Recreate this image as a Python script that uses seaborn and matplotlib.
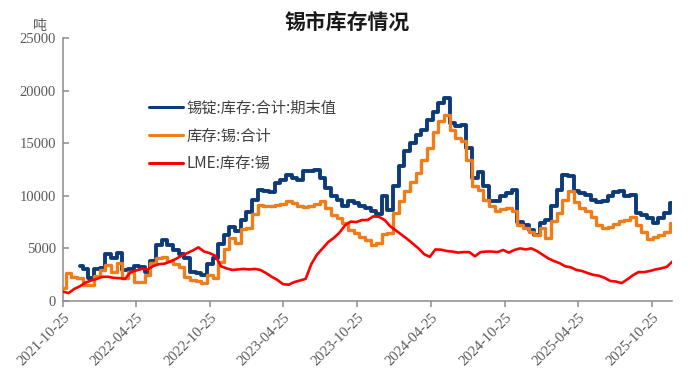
import numpy as np
import pandas as pd
import matplotlib
matplotlib.use("Agg")
import matplotlib.pyplot as plt
import seaborn as sns

# ---- data (biweekly readings, tonnes) ----
start_date = "2021-10-25"
n_points = 109
dates = pd.date_range(start_date, periods=n_points, freq="14D")

ingot_stock = [np.nan, np.nan, np.nan, 3300, 3000, 2160, 3000, 3100, 4500, 4060,
               4540, 2950, 3000, 3330, 3270, 2800, 3800, 5300, 5800, 5300,
               4860, 4450, 4060, 2800, 2630, 2480, 3500, 4060, 5400, 6300,
               7000, 6700, 7700, 8500, 9600, 10570, 10480, 10400, 11200, 11460,
               12000, 11680, 11530, 12320, 12320, 12480, 11680, 10730, 9940, 9620,
               8990, 9460, 9300, 8990, 8830, 8510, 8300, 9940, 8670, 10890,
               12800, 14220, 15020, 15810, 16290, 17200, 18000, 18830, 19300, 16920,
               16600, 16760, 14540, 11680, 12300, 10890, 9460, 9460, 9940, 10250,
               10570, 7500, 7240, 6760, 6290, 7400, 7720, 9000, 10570, 12000,
               11840, 10410, 10250, 10100, 9620, 9370, 9460, 10000, 10320, 10410,
               10000, 10100, 8410, 8190, 7870, 7400, 7900, 8350, 9300]

tin_total = [1200, 2630, 2300, 2160, 1520, 1500, 2400, 2950, 3430, 2800,
             3590, 2160, 2800, 1840, 1840, 2480, 3600, 4060, 4200, 3800,
             3520, 3270, 2300, 2000, 1900, 1680, 2480, 2160, 3750, 4900,
             5970, 5500, 6800, 6920, 8300, 9140, 9050, 9050, 9140, 9240,
             9460, 9300, 8990, 8920, 8990, 9200, 9460, 8830, 8190, 7870,
             7460, 6760, 6450, 6130, 5800, 5330, 5490, 6380, 6450, 8350,
             9460, 10410, 11270, 12160, 13430, 14540, 16070, 17080, 17720, 16220,
             15490, 15180, 13430, 10950, 10570, 9620, 8990, 8510, 8730, 8830,
             8600, 7240, 6920, 6600, 6290, 6900, 6000, 7560, 8350, 9620,
             10410, 9400, 8830, 8510, 8030, 7240, 6920, 7080, 7300, 7650,
             7710, 7950, 7240, 6600, 5900, 6100, 6300, 6600, 7400]

lme_stock = [890, 750, 1150, 1400, 1750, 1950, 2100, 2300, 2300, 2200,
             2170, 2100, 2750, 2900, 3050, 3000, 3330, 3500, 3550, 3750,
             4000, 4300, 4550, 4800, 5100, 4700, 4550, 4300, 3300, 3100,
             2950, 3000, 3050, 3000, 3050, 2950, 2650, 2300, 2000, 1600,
             1550, 1800, 1950, 2100, 3500, 4400, 5000, 5600, 6000, 6500,
             7200, 7550, 7500, 7700, 7700, 8050, 8000, 7700, 7100, 6700,
             6300, 5900, 5450, 5000, 4450, 4200, 4900, 4880, 4750, 4700,
             4600, 4650, 4650, 4250, 4650, 4700, 4700, 4650, 4850, 4600,
             4850, 5000, 4900, 5000, 4750, 4400, 4050, 3800, 3600, 3300,
             3200, 2950, 2850, 2650, 2480, 2400, 2200, 1900, 1850, 1700,
             2050, 2450, 2750, 2750, 2850, 3000, 3100, 3250, 3750]

series_names = ["锡锭:库存:合计:期末值", "库存:锡:合计", "LME:库存:锡"]
series_colors = ["#0D3B7A", "#EE7D1A", "#FF0000"]
tick_labels = ["2021-10-25", "2022-04-25", "2022-10-25", "2023-04-25", "2023-10-25",
               "2024-04-25", "2024-10-25", "2025-04-25", "2025-10-25"]
y_ticks = [0, 5000, 10000, 15000, 20000, 25000]

# ---- plot ----
sns.set_theme(style="white")
plt.rcParams["font.family"] = ["Liberation Serif", "Noto Sans CJK SC", "DejaVu Sans"]

fig = plt.figure(figsize=(6.93, 3.83), dpi=100)
ax = fig.add_axes([63 / 693, 1 - 301 / 383, (672 - 63) / 693, (301 - 38) / 383])

df = pd.DataFrame({"date": dates, "a": ingot_stock, "b": tin_total, "c": lme_stock})
sns.lineplot(data=df, x="date", y="a", ax=ax, color=series_colors[0], lw=2.8,
             drawstyle="steps-mid", label=series_names[0], zorder=2)
sns.lineplot(data=df, x="date", y="b", ax=ax, color=series_colors[1], lw=2.4,
             drawstyle="steps-mid", label=series_names[1], zorder=3)
sns.lineplot(data=df, x="date", y="c", ax=ax, color=series_colors[2], lw=1.9,
             label=series_names[2], zorder=4)

tick_dates = pd.to_datetime(tick_labels)
ax.set_xlim(pd.Timestamp("2021-10-25"), pd.Timestamp("2025-12-14"))
ax.set_ylim(0, 25000)
ax.set_xlabel("")
ax.set_ylabel("")
ax.set_xticks(tick_dates)
ax.set_xticklabels(tick_labels, rotation=45, ha="right", rotation_mode="anchor",
                   fontsize=10.5, color="#595959", family=["Liberation Serif"])
ax.set_yticks(y_ticks)
ax.set_yticklabels([str(v) for v in y_ticks], fontsize=10.5, color="#595959",
                   family=["Liberation Serif"])

for s in ["top", "right"]:
    ax.spines[s].set_visible(False)
for s in ["left", "bottom"]:
    ax.spines[s].set_color("#8C8C8C")
    ax.spines[s].set_linewidth(1.1)
ax.tick_params(axis="x", bottom=True, direction="out", length=4, width=1.1,
               color="#8C8C8C", pad=3)
ax.tick_params(axis="y", left=True, direction="in", length=4, width=1.1,
               color="#8C8C8C", pad=5)

leg = ax.legend(loc="upper left", bbox_to_anchor=(0.1417, 0.765), frameon=False,
                borderaxespad=0, borderpad=0,
                handlelength=2.2, handletextpad=0.22, labelspacing=0.7,
                prop={"family": ["Noto Sans CJK SC"], "size": 11})
for t in leg.get_texts():
    t.set_color("#404040")
for h in leg.get_lines():
    h.set_linewidth(2.2)

fig.text(347 / 693, 1 - 22 / 383, "锡市库存情况", ha="center", va="center",
         fontsize=15, fontweight="bold", family=["Noto Sans CJK SC"], color="#1a1a1a")
fig.text(40 / 693, 1 - 26 / 383, "吨", ha="center", va="center",
         fontsize=10, family=["Noto Sans CJK SC"], color="#595959")

fig.savefig("out.png", dpi=100)
